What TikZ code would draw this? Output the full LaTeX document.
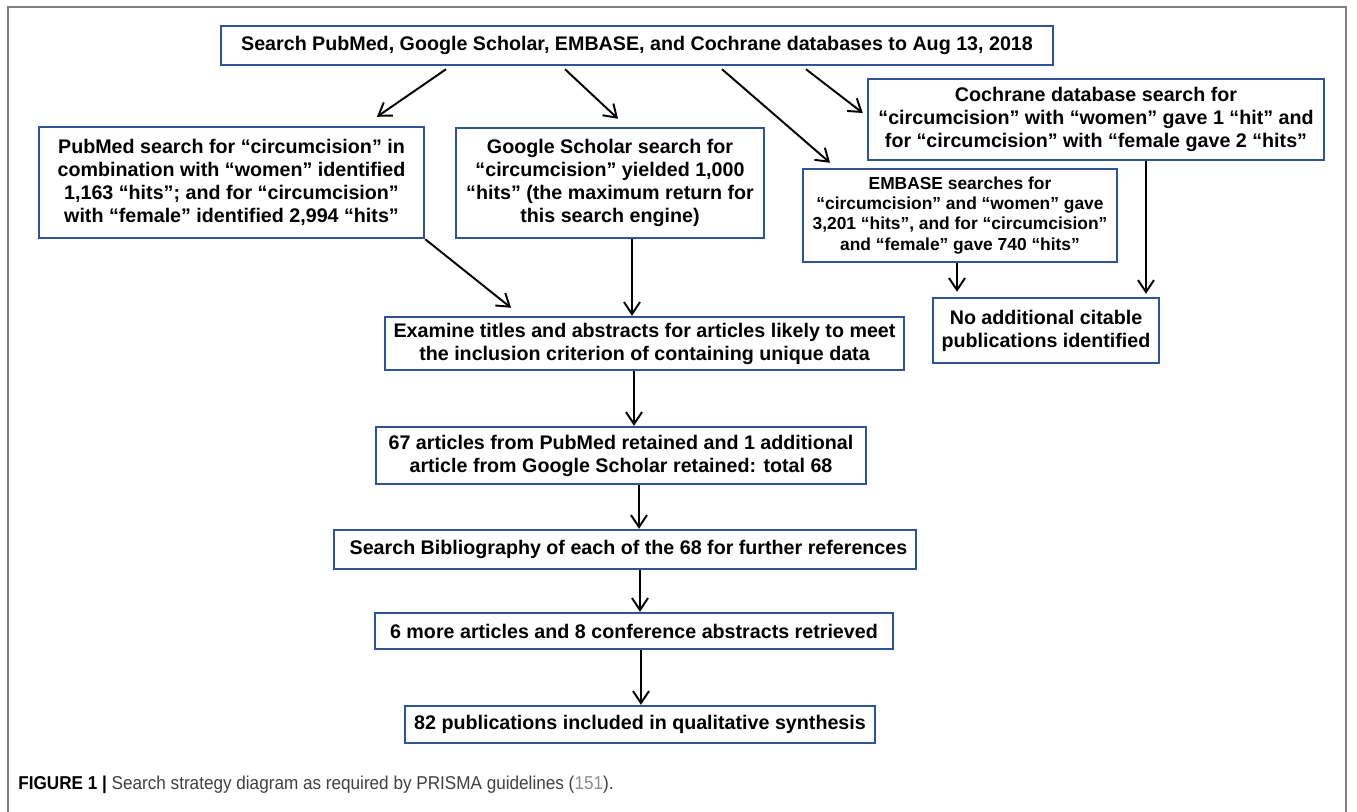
\documentclass[tikz,border=0pt]{standalone}
\usepackage{fontspec}
\setmainfont{Liberation Sans}
\newfontfamily\capfont{Liberation Sans}[FakeStretch=0.92]
\usepackage{tikz}
\usetikzlibrary{arrows.meta}
\definecolor{boxblue}{RGB}{47,84,150}
\definecolor{framegray}{RGB}{128,128,128}
\definecolor{captext}{RGB}{64,64,64}
\definecolor{capref}{RGB}{140,140,140}
\tikzstyle{stage} = [rectangle, draw=boxblue, line width=1.4pt, inner sep=0pt, align=center, font=\fontsize{11.2}{13.1}\selectfont\bfseries]
\tikzstyle{small} = [font=\fontsize{9.9}{11.4}\selectfont\bfseries]
\tikzstyle{connector} = [draw, line width=1.1pt, -{Straight Barb[length=2.4mm, width=3.2mm]}]
\tikzstyle{frame} = [draw=framegray, line width=0.9pt]

\begin{document}
\begin{tikzpicture}[x=0.02cm, y=-0.02cm]
      \useasboundingbox (0,0) rectangle (1357,812);
      \draw [frame] (8,812) -- (8,7) -- (1346,7) -- (1346,812);

      % Define nodes
      \node (search) [stage, minimum width=16.64cm, minimum height=0.78cm] at (637,45.5) {Search PubMed, Google Scholar, EMBASE, and Cochrane databases to Aug 13, 2018};
      \node (pubmed) [stage, minimum width=7.70cm, minimum height=2.22cm] at (231.5,182.5) {PubMed search for “circumcision” in\\combination with “women” identified\\1,163 “hits”; and for “circumcision”\\with “female” identified 2,994 “hits”};
      \node (scholar) [stage, minimum width=6.16cm, minimum height=2.20cm] at (610,183) {Google Scholar search for\\“circumcision” yielded 1,000\\“hits” (the maximum return for\\this search engine)};
      \node (cochrane) [stage, minimum width=9.12cm, minimum height=1.62cm] at (1096,119.5) {Cochrane database search for\\“circumcision” with “women” gave 1 “hit” and\\for “circumcision” with “female gave 2 “hits”};
      \node (embase) [stage, small, minimum width=6.28cm, minimum height=1.86cm] at (960,215.5) {EMBASE searches for\\“circumcision” and “women” gave\\3,201 “hits”, and for “circumcision”\\and “female” gave 740 “hits”};
      \node (noadd) [stage, minimum width=4.52cm, minimum height=1.30cm] at (1046,330.5) {No additional citable\\publications identified};
      \node (examine) [stage, minimum width=10.38cm, minimum height=1.06cm] at (644.5,343.5) {Examine titles and abstracts for articles likely to meet\\the inclusion criterion of containing unique data};
      \node (retained) [stage, minimum width=9.80cm, minimum height=1.14cm] at (621,455.5) {67 articles from PubMed retained and 1 additional\\article from Google Scholar retained: total 68};
      \node (biblio) [stage, minimum width=11.64cm, minimum height=0.78cm] at (625,549.5) {\hspace{0.14cm}Search Bibliography of each of the 68 for further references};
      \node (more) [stage, minimum width=10.36cm, minimum height=0.72cm] at (634,631) {6 more articles and 8 conference abstracts retrieved};
      \node (included) [stage, minimum width=9.40cm, minimum height=0.74cm] at (640,724.5) {82 publications included in qualitative synthesis};
      \node (caption) [anchor=west, inner sep=0pt, font=\capfont\fontsize{10.6}{12.5}\selectfont] at (18,785) {\textbf{FIGURE 1 |} \textcolor{captext}{Search strategy diagram as required by PRISMA guidelines (\textcolor{capref}{151}).}};

      % Draw connectors
      \draw [connector] ([xshift=-3.82cm, yshift=-0.06cm]search.south) -- ([xshift=2.91cm, yshift=0.18cm]pubmed.north);
      \draw [connector] ([xshift=-1.44cm, yshift=-0.06cm]search.south) -- ([xshift=0.16cm, yshift=0.16cm]scholar.north);
      \draw [connector] ([xshift=1.70cm, yshift=-0.06cm]search.south) -- ([xshift=-2.60cm, yshift=0.10cm]embase.north);
      \draw [connector] ([xshift=3.38cm, yshift=-0.06cm]search.south) -- ([xshift=-0.08cm, yshift=0.13cm]cochrane.west);
      \draw [connector] (pubmed.south east) -- ([xshift=-2.67cm, yshift=0.16cm]examine.north);
      \draw [connector] ([xshift=0.44cm]scholar.south) -- ([xshift=-0.25cm]examine.north);
      \draw [connector] ([xshift=-0.06cm]embase.south) -- ([xshift=-1.78cm, yshift=0.10cm]noadd.north);
      \draw [connector] ([xshift=1.00cm]cochrane.south) -- ([xshift=2.00cm, yshift=0.06cm]noadd.north);
      \draw [connector] ([xshift=-0.21cm]examine.south) -- ([xshift=0.26cm]retained.north);
      \draw [connector] ([xshift=0.36cm]retained.south) -- ([xshift=0.28cm]biblio.north);
      \draw [connector] ([xshift=0.30cm]biblio.south) -- ([xshift=0.12cm]more.north);
      \draw [connector] ([xshift=0.14cm]more.south) -- ([xshift=0.02cm]included.north);
\end{tikzpicture}
\end{document}
